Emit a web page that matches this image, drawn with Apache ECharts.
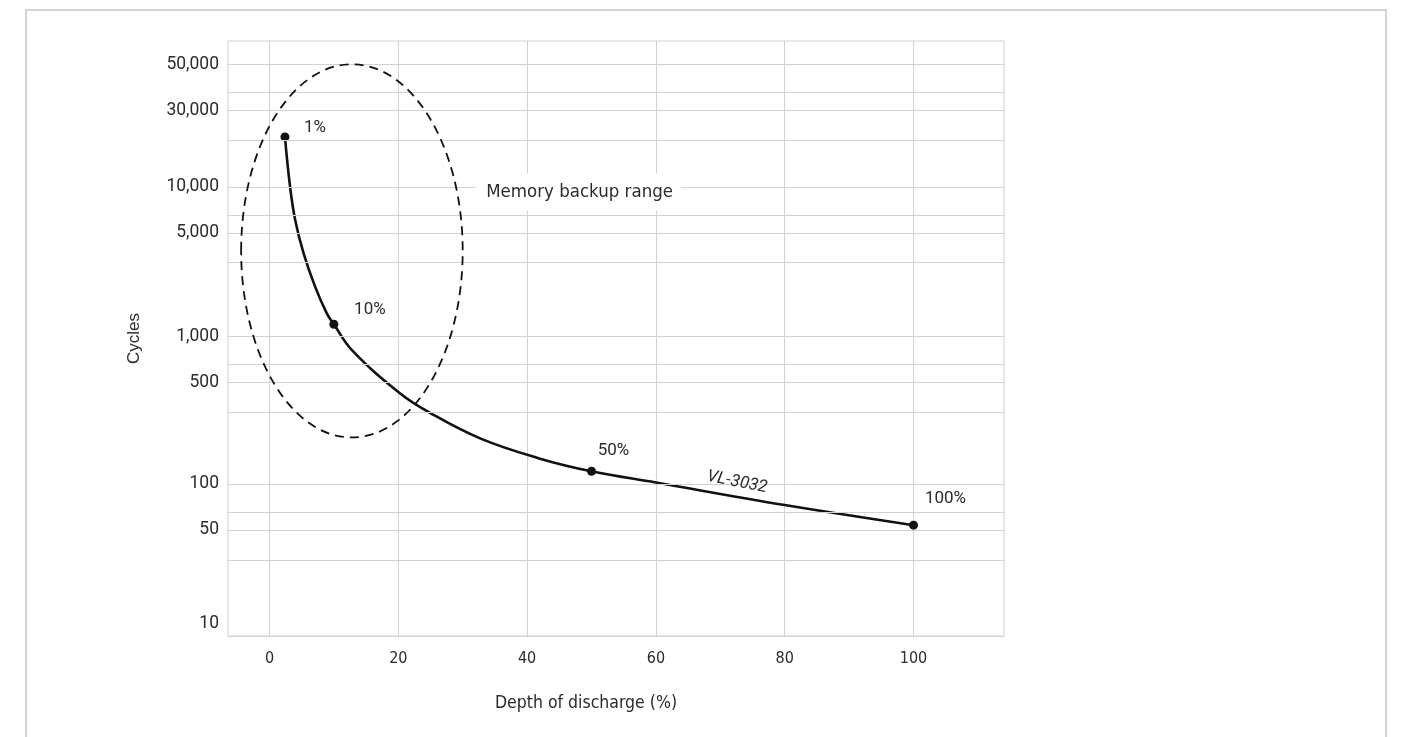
<!DOCTYPE html>
<html>
<head>
<meta charset="utf-8">
<title>VL-3032 cycle life</title>
<script src="https://cdn.jsdelivr.net/npm/echarts@6/dist/echarts.min.js"></script>
<style>
html, body { margin: 0; padding: 0; background: #fff; }
#chart { width: 1401px; height: 737px; }
</style>
</head>
<body>
<div id="chart"></div>
<script>
// curve: depth of discharge (%) -> cycles
var curveDepth  = [2.4, 3.2, 4.0, 5.3, 7.1, 8.9, 10, 12.8, 20.3, 24.9, 32.7, 42, 50, 60, 80, 100];
var curveCycles = [21600, 10000, 6000, 3600, 2150, 1430, 1210, 813, 417, 310, 209, 153, 126, 106, 75, 55];

// marked points
var pointDepth  = [2.4, 10, 50, 100];
var pointCycles = [21600, 1210, 126, 55];
var pointLabels = ['1%', '10%', '50%', '100%'];

// axes
var xTicks = [0, 20, 40, 60, 80, 100];
var yGridValues = [32, 51, 67, 104, 311, 494, 652, 1000, 3120, 4920, 6490, 10000, 20500, 32300, 42600, 66000];
var yTickValues = [10, 51, 104, 494, 1000, 4920, 10000, 32300, 66000];
var yTickLabels = ['10', '50', '100', '500', '1,000', '5,000', '10,000', '30,000', '50,000'];

// annotations
var rangeDepth  = [-4.4, 30];      // dashed ellipse, left/right
var rangeCycles = [212, 66000];    // dashed ellipse, bottom/top
var rangeText   = 'Memory backup range';
var rangeTextAt = [48.0, 9210];
var seriesName  = 'VL-3032';
var seriesNameAt = [72.6, 106.5];

var labelOffsets = [[30, -9], [36, -14], [22, -21], [32, -26]];

var txtColor = '#2b2b2b';
var gridColor = '#d2d2d2';
var baseFont = 'Roboto, "Liberation Sans", sans-serif';
var condFont = '"DejaVu Sans Condensed", Roboto, sans-serif';

var chart = echarts.init(document.getElementById('chart'));

/* y 网格线和刻度 */
var gridLines = [];
yGridValues.forEach(function (v) {
    gridLines.push({ yAxis: v, label: { show: false } });
});
yTickValues.forEach(function (v, i) {
    gridLines.push({
        yAxis: v,
        label: {
            show: true,
            position: 'start',
            distance: 9,
            formatter: yTickLabels[i],
            color: txtColor,
            fontFamily: baseFont,
            fontSize: 17.5,
            offset: i === 0 ? [0, -12] : [0, 0]
        }
    });
});

var curveData = curveDepth.map(function (d, i) { return [d, curveCycles[i]]; });
var pointData = pointDepth.map(function (d, i) {
    return {
        value: [d, pointCycles[i]],
        label: { formatter: pointLabels[i], offset: labelOffsets[i] }
    };
});

var frame = {
    type: 'rect',
    silent: true,
    shape: { x: 26, y: 10, width: 1360, height: 760 },
    style: { fill: 'none', stroke: '#d4d4d4', lineWidth: 2 }
};

var option = {
    animation: false,
    backgroundColor: '#fff',
    grid: {
        left: 228,
        top: 41,
        right: 397,
        bottom: 101,
        show: true,
        borderColor: gridColor,
        borderWidth: 1
    },
    xAxis: {
        type: 'value',
        min: -6.44,
        max: 114.05,
        name: 'Depth of discharge (%)',
        nameLocation: 'middle',
        nameGap: 58,
        nameTextStyle: { color: txtColor, fontFamily: condFont, fontSize: 17.5, padding: [0, 60, 0, 0] },
        axisLine: { show: true, lineStyle: { color: gridColor } },
        axisTick: { show: false, customValues: xTicks },
        axisLabel: { customValues: xTicks, color: txtColor, fontFamily: condFont, fontSize: 16, margin: 15 },
        splitLine: { show: true, lineStyle: { color: gridColor, width: 1 } }
    },
    yAxis: {
        type: 'log',
        min: 10,
        max: 94400,
        name: 'Cycles',
        nameLocation: 'middle',
        nameGap: 85,
        nameTextStyle: { color: txtColor, fontFamily: '"Liberation Sans", sans-serif', fontSize: 17 },
        axisLine: { show: true, lineStyle: { color: gridColor } },
        axisTick: { show: false },
        axisLabel: { show: false },
        splitLine: { show: false }
    },
    graphic: [frame],
    series: [
        {
            name: 'grid',
            type: 'line',
            data: [],
            z: 1,
            markLine: {
                silent: true,
                symbol: ['none', 'none'],
                lineStyle: { color: gridColor, width: 1, type: 'solid' },
                data: gridLines
            }
        },
        {
            name: seriesName,
            type: 'line',
            data: curveData,
            smooth: 0.4,
            showSymbol: false,
            z: 3,
            lineStyle: { color: '#111', width: 2.6 }
        },
        {
            name: 'points',
            type: 'scatter',
            data: pointData,
            symbolSize: 9,
            z: 4,
            itemStyle: { color: '#111', opacity: 1 },
            label: {
                show: true,
                position: 'inside',
                color: txtColor,
                fontFamily: baseFont,
                fontSize: 17
            }
        },
        {
            name: 'notes',
            type: 'scatter',
            symbolSize: 1,
            z: 5,
            itemStyle: { color: 'transparent', opacity: 1 },
            data: [
                {
                    value: rangeTextAt,
                    label: {
                        show: true,
                        position: 'inside',
                        formatter: rangeText,
                        color: txtColor,
                        fontFamily: condFont,
                        fontSize: 18.5,
                        backgroundColor: '#fff',
                        padding: [9, 8, 9, 10]
                    }
                },
                {
                    value: seriesNameAt,
                    label: {
                        show: true,
                        position: 'inside',
                        formatter: seriesName,
                        color: txtColor,
                        fontFamily: baseFont,
                        fontStyle: 'italic',
                        fontSize: 17,
                        rotate: -11
                    }
                }
            ]
        }
    ]
};
chart.setOption(option);

/* 虚线椭圆：用坐标系换算到像素 */
var p0 = chart.convertToPixel({ gridIndex: 0 }, [rangeDepth[0], rangeCycles[0]]);
var p1 = chart.convertToPixel({ gridIndex: 0 }, [rangeDepth[1], rangeCycles[1]]);
chart.setOption({
    graphic: [frame, {
        type: 'ellipse',
        silent: true,
        z: 10,
        shape: {
            cx: (p0[0] + p1[0]) / 2,
            cy: (p0[1] + p1[1]) / 2,
            rx: Math.abs(p1[0] - p0[0]) / 2,
            ry: Math.abs(p1[1] - p0[1]) / 2
        },
        style: { fill: 'none', stroke: '#111', lineWidth: 1.8, lineDash: [9, 6] }
    }]
});
</script>
</body>
</html>
